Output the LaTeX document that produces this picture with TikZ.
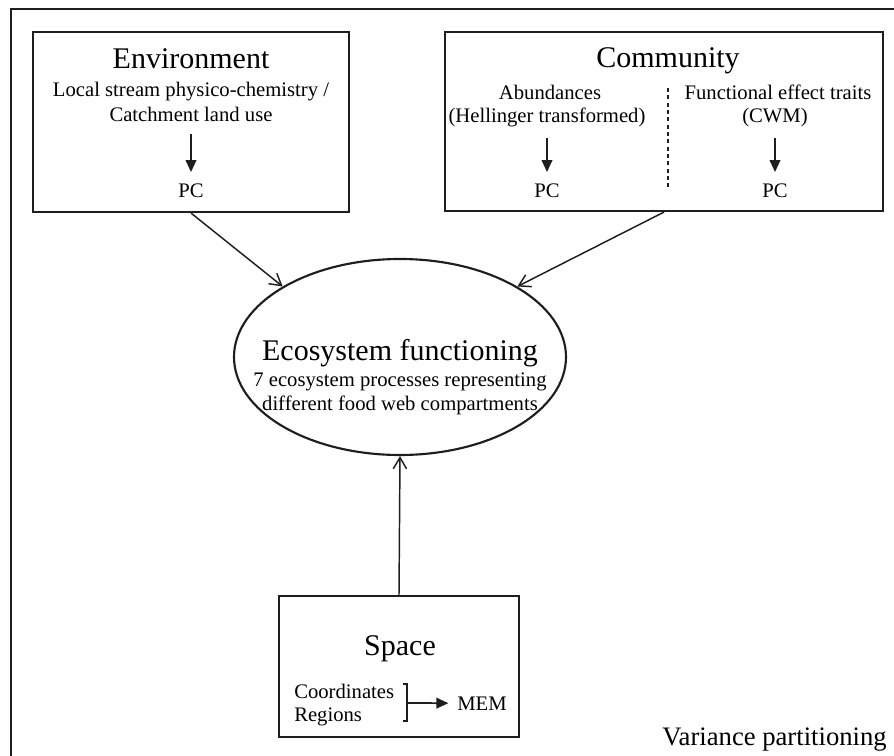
\documentclass[tikz,border=0pt]{standalone}
\usepackage{fontspec}
\setmainfont{Liberation Serif}
\usepackage{tikz}
\usetikzlibrary{shapes.geometric}
\usetikzlibrary{arrows.meta}
\usepackage{xcolor}
\definecolor{ColLine}{RGB}{30,30,30}
\tikzstyle{BoxFactor}=[rectangle,draw=ColLine,line width=1.6pt,inner sep=0pt]
\tikzstyle{EllipseFactor}=[ellipse,draw=ColLine,line width=1.6pt,inner sep=0pt,
minimum width=249pt,minimum height=147pt]
\tikzstyle{TextTitle}=[inner sep=0pt,anchor=base,font=\fontsize{22.5}{27}\selectfont]
\tikzstyle{TextSmall}=[inner sep=0pt,anchor=base,font=\fontsize{15.5}{18}\selectfont]
\tikzstyle{EdgeEffect}=[ColLine,line width=1.1pt,-{Straight Barb[length=8.5pt,width=10pt]}]
\tikzstyle{EdgeStep}=[ColLine,line width=1.3pt,-{Triangle[length=9pt,width=8pt]}]

\begin{document}
\begin{tikzpicture}[x=0.75pt,y=-0.75pt]
        \useasboundingbox(0,0)rectangle(894,756);
        \draw[ColLine,line width=1.5pt](11,9)rectangle(930,800);
        \node[BoxFactor,minimum width=237pt,minimum height=135pt](env)at(191,122){};
        \node[BoxFactor,minimum width=328.5pt,minimum height=134.25pt](com)at(664,121.5){};
        \node[BoxFactor,minimum width=180pt,minimum height=105.75pt](spc)at(399,666.5){};
        \node[EllipseFactor](eco)at(400,357){};
        \node[TextTitle](envT)at(191,69){Environment};
        \node[TextSmall](envA)at(191,97){Local stream physico-chemistry /};
        \node[TextSmall](envB)at(191,122){Catchment land use};
        \node[TextSmall](envPC)at(191,198){PC};
        \node[TextTitle](comT)at(668,68){Community};
        \node[TextSmall](comA)at(550,100){Abundances};
        \node[TextSmall](comB)at(547,123){(Hellinger transformed)};
        \node[TextSmall](comAPC)at(547,198){PC};
        \node[TextSmall](comC)at(778,100){Functional effect traits};
        \node[TextSmall](comD)at(775,123){(CWM)};
        \node[TextSmall](comCPC)at(775,198){PC};
        \node[TextTitle](ecoT)at(400,361){Ecosystem functioning};
        \node[TextSmall](ecoA)at(400,387){7 ecosystem processes representing};
        \node[TextSmall](ecoB)at(400,411){different food web compartments};
        \node[TextTitle](spcT)at(400,655){Space};
        \node[TextSmall,anchor=base west](spcA)at(294,698){Coordinates};
        \node[TextSmall,anchor=base west](spcB)at(294,721){Regions};
        \node[TextSmall,anchor=base west](mem)at(457,710){MEM};
        \node[TextTitle,anchor=base east,font=\fontsize{20}{24}\selectfont](var)at(887,745){Variance partitioning};
        \coordinate(brk)at(407,703);
        \draw[EdgeStep]([yshift=-9pt]envB.south)--([yshift=9pt]envPC.north);
        \draw[EdgeStep]([yshift=-8pt]comB.south)--([yshift=9pt]comAPC.north);
        \draw[EdgeStep]([yshift=-8pt]comD.south)--([yshift=9pt]comCPC.north);
        \draw[ColLine,line width=0.8pt,dash pattern=on 3pt off 2.5pt](668,88)--(668,188);
        \draw[ColLine,line width=1pt](403,684)--(407,684)--(407,721)--(403,721);
        \draw[EdgeStep,shorten >=6.5pt](brk)--(mem.west);
        \draw[EdgeEffect](env.south)--(eco.149);
        \draw[EdgeEffect](com.south)--(eco.31);
        \draw[EdgeEffect](spc.north)--(eco.south);
    \end{tikzpicture}
\end{document}
